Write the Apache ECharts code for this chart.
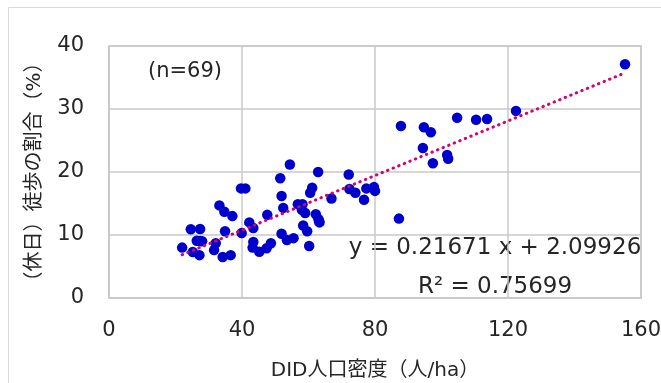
<!DOCTYPE html>
<html>
<head>
<meta charset="utf-8">
<script src="https://cdn.jsdelivr.net/npm/echarts@6/dist/echarts.min.js"></script>
<style>html,body{margin:0;padding:0;background:#fff;}#c{width:661px;height:383px;}</style>
</head>
<body>
<div id="c"></div>
<script>
// DID population density (people/ha)
const densityX = [155.2,122.4,104.7,110.4,113.7,87.8,94.7,96.8,94.4,101.7,102.0,97.4,79.7,80.0,87.2,
  72.1,72.3,74.1,76.7,77.4,54.4,51.5,62.9,61.1,60.5,51.9,52.4,56.8,58.2,58.0,59.0,62.2,63.0,63.3,66.9,
  58.4,59.6,51.9,53.5,55.5,48.7,60.2,39.7,41.0,33.2,34.7,37.1,24.6,27.4,34.9,39.9,42.2,43.4,47.6,
  26.4,27.4,32.1,22.0,25.2,27.2,31.6,34.2,36.6,43.4,43.2,45.2,47.4,63.2,28.0];
// Holiday walking share (%)
const walkShareY = [37.1,29.7,28.6,28.3,28.4,27.3,27.1,26.3,23.8,22.7,22.1,21.4,17.6,17.0,12.6,
  19.6,17.3,16.7,15.6,17.4,21.2,19.0,20.0,17.5,16.7,16.2,14.3,14.9,14.9,14.0,13.5,13.3,12.5,12.0,15.8,
  11.5,10.6,10.2,9.2,9.5,8.7,8.25,17.4,17.4,14.7,13.7,13.0,10.9,10.95,10.6,10.3,12.0,11.1,13.2,
  9.1,9.05,8.7,8.0,7.3,6.8,7.6,6.5,6.8,8.9,8.0,7.35,7.9,12.2,9.0];
const xTicks = [0, 40, 80, 120, 160];
const yTicks = [0, 10, 20, 30, 40];
const trendSlope = 0.21671;
const trendIntercept = 2.09926;
const rSquared = 0.75699;
const sampleLabel = '(n=69)';
const xTitle = 'DID人口密度（人/ha）';
const yTitle = '（休日）徒歩の割合（%）';

const points = densityX.map((x, i) => [x, walkShareY[i]]);
const xMin = Math.min(...densityX), xMax = Math.max(...densityX);
const trend = [[xMin, trendSlope * xMin + trendIntercept], [xMax, trendSlope * xMax + trendIntercept]];

const FONT = '"DejaVu Sans", "Noto Sans CJK JP", sans-serif';
const TXT = '#262626';
const chart = echarts.init(document.getElementById('c'), null, {renderer: 'canvas'});
chart.setOption({
  animation: false,
  backgroundColor: '#fff',
  grid: {left: 109, right: 20, top: 46, bottom: 85, containLabel: false, outerBoundsMode: 'none',
         show: true, borderColor: '#c8c8c8', borderWidth: 1.5},
  xAxis: {
    type: 'value', min: xTicks[0], max: xTicks[xTicks.length - 1], interval: xTicks[1] - xTicks[0],
    name: xTitle, nameLocation: 'middle', nameGap: 63,
    nameTextStyle: {fontFamily: FONT, fontSize: 20, color: TXT},
    axisLine: {show: true, lineStyle: {color: '#c8c8c8', width: 1.5}},
    axisTick: {show: false},
    splitLine: {show: true, lineStyle: {color: '#c8c8c8', width: 1.5}},
    axisLabel: {fontFamily: FONT, fontSize: 21, color: TXT, margin: 22, showMinLabel: true, showMaxLabel: true}
  },
  yAxis: {
    type: 'value', min: yTicks[0], max: yTicks[yTicks.length - 1], interval: yTicks[1] - yTicks[0],
    name: yTitle, nameLocation: 'middle', nameGap: 64, nameRotate: 90,
    nameTextStyle: {fontFamily: FONT, fontSize: 20, color: TXT},
    axisLine: {show: true, lineStyle: {color: '#c8c8c8', width: 1.5}},
    axisTick: {show: false},
    splitLine: {show: true, lineStyle: {color: '#c8c8c8', width: 1.5}},
    axisLabel: {fontFamily: FONT, fontSize: 21, color: TXT, margin: 25}
  },
  series: [
    {type: 'scatter', data: points, symbolSize: 10.5, itemStyle: {color: '#0000CC', opacity: 1}, z: 2},
    {type: 'line', data: trend, showSymbol: false, symbol: 'none', z: 3,
     lineStyle: {color: '#D6006F', width: 3, type: [0.5, 5.5], cap: 'round'}}
  ],
  graphic: [
    {type: 'rect', silent: true, z: -10, shape: {x: 8.5, y: 7.5, width: 700, height: 420},
     style: {fill: 'none', stroke: '#d9d9d9', lineWidth: 1}},
    {type: 'text', x: 185, y: 72, style: {text: sampleLabel, font: '21px ' + FONT, fill: TXT, textAlign: 'center', textVerticalAlign: 'middle'}},
    {type: 'text', x: 495, y: 248, style: {text: 'y = ' + trendSlope + ' x + ' + trendIntercept, font: '23px ' + FONT, fill: TXT, textAlign: 'center', textVerticalAlign: 'middle'}},
    {type: 'text', x: 495, y: 287, style: {text: 'R² = ' + rSquared, font: '23px ' + FONT, fill: TXT, textAlign: 'center', textVerticalAlign: 'middle'}}
  ]
});
</script>
</body>
</html>
